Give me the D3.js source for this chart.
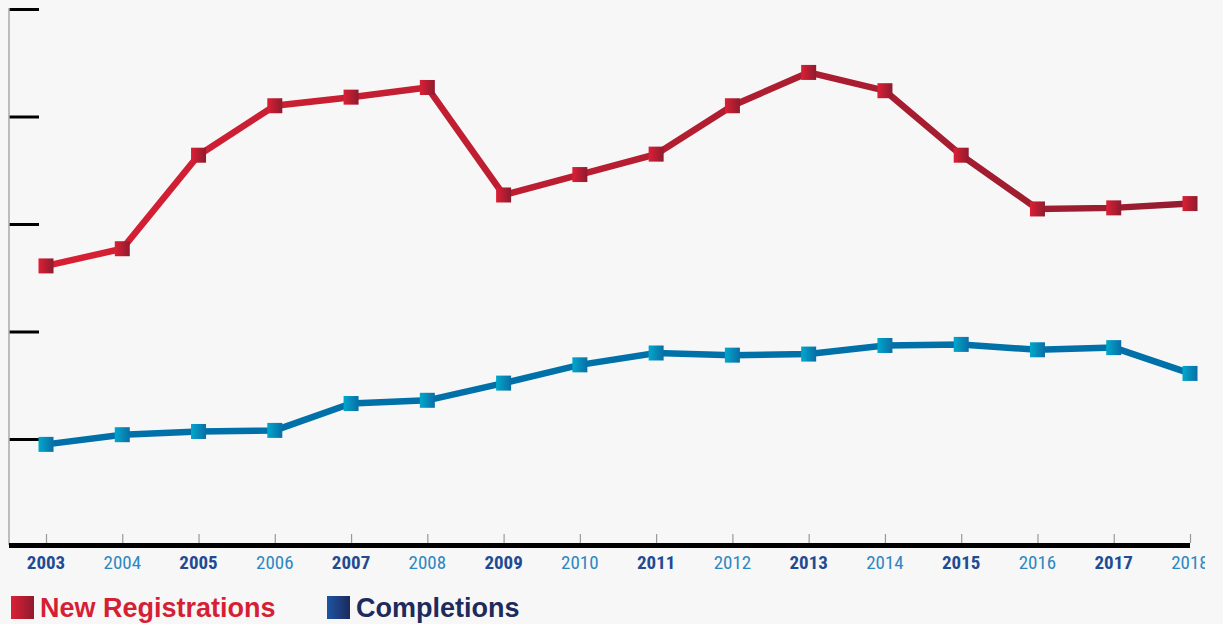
<!DOCTYPE html>
<html>
<head>
<meta charset="utf-8">
<script src="https://cdn.jsdelivr.net/npm/d3@7"></script>
<style>
  html, body { margin: 0; padding: 0; background: #f7f7f7; }
  svg { display: block; }
</style>
</head>
<body>
<svg id="chart" width="1223" height="624"></svg>
<script>
// Yearly counts, in thousands
const years = [2003, 2004, 2005, 2006, 2007, 2008, 2009, 2010, 2011, 2012, 2013, 2014, 2015, 2016, 2017, 2018];
const newRegistrations = [2.61, 2.77, 3.64, 4.10, 4.18, 4.27, 3.27, 3.46, 3.65, 4.10, 4.41, 4.24, 3.64, 3.14, 3.15, 3.19];
const completions = [0.95, 1.04, 1.07, 1.08, 1.33, 1.36, 1.52, 1.69, 1.80, 1.78, 1.79, 1.87, 1.88, 1.83, 1.85, 1.61];
const yTicks = [1, 2, 3, 4, 5];
const seriesNames = ["New Registrations", "Completions"];

const svg = d3.select("#chart");
const W = 1223, H = 624;

const defs = svg.append("defs");
defs.append("clipPath").attr("id", "clipAll")
  .append("rect").attr("x", 0).attr("y", 0).attr("width", 1205).attr("height", H);

function hGrad(id, c0, c1, x1, x2, units) {
  const g = defs.append("linearGradient").attr("id", id)
    .attr("x1", x1).attr("x2", x2).attr("y1", 0).attr("y2", 0);
  if (units) g.attr("gradientUnits", units);
  g.append("stop").attr("offset", "0%").attr("stop-color", c0);
  g.append("stop").attr("offset", "100%").attr("stop-color", c1);
}
hGrad("redMarker", "#dc1f35", "#8e1b2e", "0%", "100%");
hGrad("blueMarker", "#00a8cc", "#0a6ea6", "0%", "100%");
hGrad("navyMarker", "#1f54a3", "#1b2a5c", "0%", "100%");

const root = svg.append("g").attr("clip-path", "url(#clipAll)");

const x = d3.scalePoint().domain(years).range([46, 1190]);
const y = d3.scaleLinear().domain([0, 5]).range([546.5, 9]);

// Line gradient for the red series: bright on the left, darker on the right
hGrad("redLine", "#d81f33", "#961c2f", x(2003), x(2018), "userSpaceOnUse");

// Left axis with long black ticks
const yAxis = root.append("g").attr("transform", "translate(9,0)")
  .call(d3.axisRight(y).tickValues(yTicks).tickSize(30).tickFormat(""));
yAxis.select(".domain").remove();
yAxis.selectAll(".tick line").attr("stroke", "#000").attr("stroke-width", 3);
root.append("line").attr("x1", 9).attr("x2", 9).attr("y1", 8).attr("y2", 545)
  .attr("stroke", "#aaa").attr("stroke-width", 1.5);

// Bottom axis: small grey ticks above a thick black baseline
const xAxis = root.append("g").attr("transform", "translate(0,543)")
  .call(d3.axisTop(x).tickSize(9).tickFormat(""));
xAxis.select(".domain").remove();
xAxis.selectAll(".tick line").attr("stroke", "#999").attr("stroke-width", 1.2);
root.append("line").attr("x1", 9).attr("x2", 1190).attr("y1", 545.5).attr("y2", 545.5)
  .attr("stroke", "#000").attr("stroke-width", 5);

// Year labels, alternating bold / light
root.append("g").selectAll("text").data(years).join("text")
  .attr("x", d => x(d)).attr("y", 569)
  .attr("text-anchor", "middle")
  .attr("font-family", "'Liberation Sans Narrow', 'Roboto Condensed', 'Liberation Sans', sans-serif")
  .attr("font-size", 19)
  .attr("font-weight", (d, i) => i % 2 === 0 ? "bold" : "normal")
  .attr("fill", (d, i) => i % 2 === 0 ? "#1f4b93" : "#2c88c2")
  .text(d => d);

const line = d3.line().x((d, i) => x(years[i])).y(d => y(d));

function drawSeries(values, stroke, markerFill) {
  root.append("path").datum(values)
    .attr("d", line)
    .attr("fill", "none")
    .attr("stroke", stroke)
    .attr("stroke-width", 6.5)
    .attr("stroke-linejoin", "miter");
  const s = 15;
  root.append("g").selectAll("rect").data(values).join("rect")
    .attr("x", (d, i) => x(years[i]) - s / 2)
    .attr("y", d => y(d) - s / 2)
    .attr("width", s).attr("height", s)
    .attr("fill", markerFill);
}
drawSeries(completions, "#0070a9", "url(#blueMarker)");
drawSeries(newRegistrations, "url(#redLine)", "url(#redMarker)");

// Legend
const legend = svg.append("g");
const items = [
  { name: seriesNames[0], x: 11, fill: "url(#redMarker)", color: "#d51f35" },
  { name: seriesNames[1], x: 327, fill: "url(#navyMarker)", color: "#1d2a5b" }
];
items.forEach(it => {
  legend.append("rect").attr("x", it.x).attr("y", 596).attr("width", 23).attr("height", 23).attr("fill", it.fill);
  legend.append("text").attr("x", it.x + 29).attr("y", 617)
    .attr("font-family", "'Liberation Sans', Arial, sans-serif")
    .attr("font-weight", "bold").attr("font-size", 27)
    .attr("fill", it.color).text(it.name);
});
</script>
</body>
</html>
